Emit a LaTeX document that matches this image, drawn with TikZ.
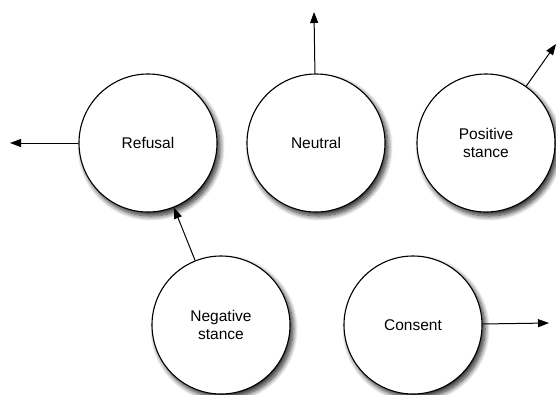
\documentclass[tikz,border=0pt]{standalone}
\usepackage{fontspec}
\setmainfont{Liberation Sans}
\usetikzlibrary{arrows.meta,shadows.blur}
\begin{document}
\begin{tikzpicture}[x=1pt,y=-1pt,
  state/.style={circle,draw,line width=1.1pt,fill=white,minimum size=138pt,
    inner sep=0pt,align=center,font=\fontsize{15.5}{18.5}\selectfont,
    blur shadow={shadow xshift=3pt,shadow yshift=-4pt,shadow blur steps=10,
      shadow blur radius=5pt,shadow opacity=85}},
  link/.style={line width=1pt,-{Triangle[length=11pt,width=8pt]}}]
\useasboundingbox (0,0) rectangle (556,394);

% stance states
\node[state] (ref) at (148,143) {Refusal};
\node[state] (neu) at (316,143) {Neutral};
\node[state] (pos) at (486,143) {Positive\\stance};
\node[state] (neg) at (221,325) {Negative\\stance};
\node[state] (con) at (413,325) {Consent};

% free ends of the outgoing transitions
\coordinate (refout) at (10,143);
\coordinate (neuout) at (314,12);
\coordinate (posout) at (556,44);
\coordinate (conout) at (549,323);

% transitions
\draw[link] (ref) -- (refout);
\draw[link] (neu) -- (neuout);
\draw[link] (pos) -- (posout);
\draw[link] (neg) -- (ref);
\draw[link] (con) -- (conout);
\end{tikzpicture}
\end{document}
